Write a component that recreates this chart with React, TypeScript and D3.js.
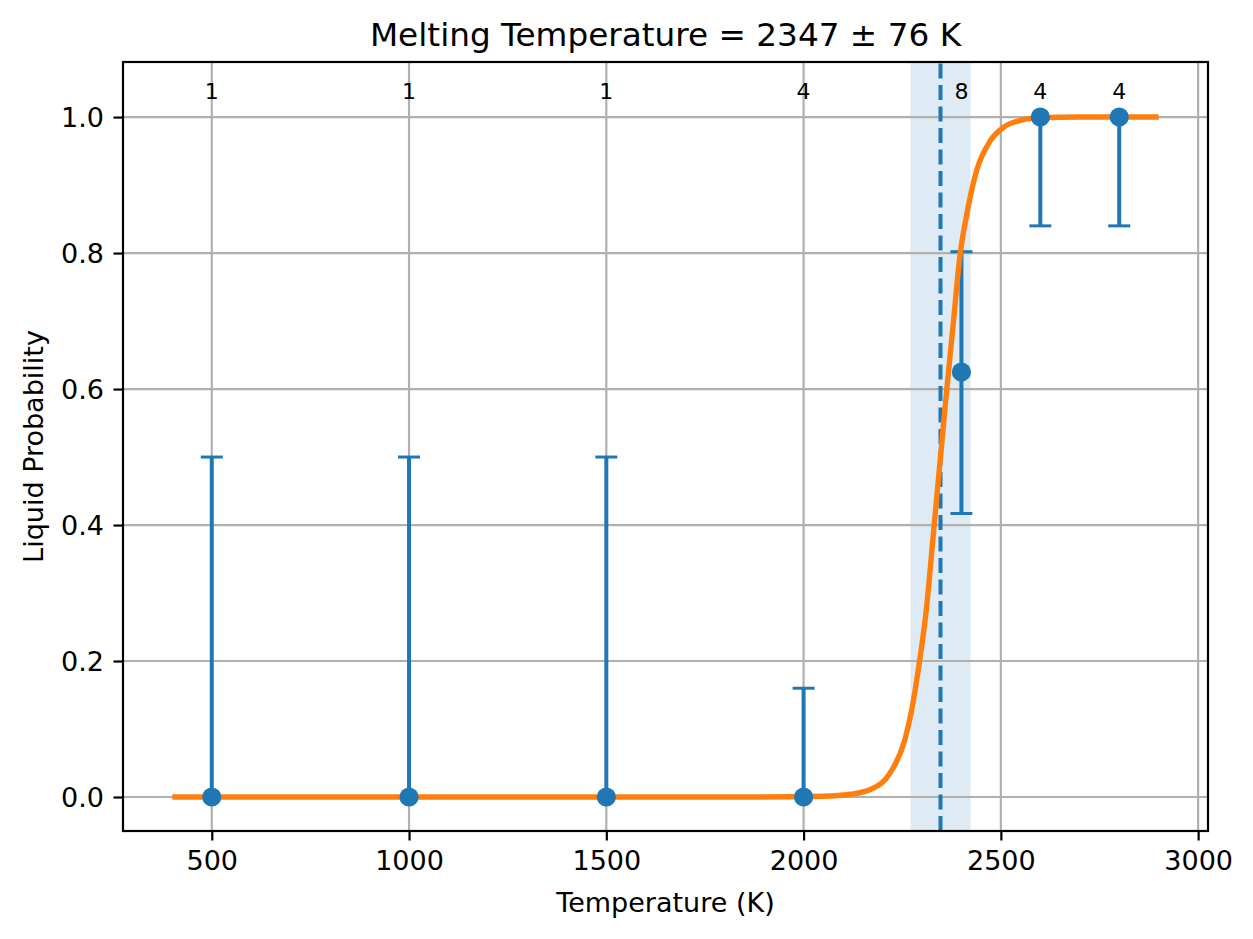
import React, { useEffect, useRef } from 'react';
import * as d3 from 'd3';

// measured points
const temps = [500, 1000, 1500, 2000, 2400, 2600, 2800];
const probs = [0, 0, 0, 0, 0.625, 1, 1];
const errLow = [0, 0, 0, 0, 0.417, 0.84, 0.84];
const errHigh = [0.5, 0.5, 0.5, 0.16, 0.802, 1, 1];
const counts = ['1', '1', '1', '4', '8', '4', '4'];

// fitted curve
const fitT = [400, 1900, 2050, 2118, 2169, 2219, 2257, 2274, 2291, 2310, 2331, 2347, 2363, 2380, 2395, 2418, 2439, 2473, 2507, 2549, 2600, 2700, 2900];
const fitP = [0, 0, 0.001, 0.004, 0.011, 0.035, 0.085, 0.128, 0.188, 0.27, 0.4, 0.5, 0.6, 0.7, 0.79, 0.87, 0.922, 0.965, 0.985, 0.995, 0.999, 1, 1];

const meltT = 2347;
const meltErr = 76;

const xTicks = [500, 1000, 1500, 2000, 2500, 3000];
const yTicks = [0, 0.2, 0.4, 0.6, 0.8, 1.0];

const App: React.FC = () => {
  const chartRef = useRef<SVGSVGElement | null>(null);

  useEffect(() => {
    d3.select(chartRef.current).selectAll('*').remove();

    const width = 1253;
    const height = 939;
    const margin = { top: 62, right: 45, bottom: 108, left: 123 };
    const font = '"DejaVu Sans", sans-serif';
    const blue = '#1f77b4';
    const orange = '#ff7f0e';

    const svg = d3.select(chartRef.current).attr('width', width).attr('height', height);

    const x = d3.scaleLinear().domain([275, 3025]).range([margin.left, width - margin.right]);
    const y = d3.scaleLinear().domain([-0.05, 1.081]).range([height - margin.bottom, margin.top]);

    const [x0, x1] = x.range();
    const [y0, y1] = y.range();

    // uncertainty band
    svg
      .append('rect')
      .attr('x', x(meltT - meltErr))
      .attr('y', y1)
      .attr('width', x(meltT + meltErr) - x(meltT - meltErr))
      .attr('height', y0 - y1)
      .attr('fill', blue)
      .attr('fill-opacity', 0.15);

    // grid
    svg
      .selectAll('.gx')
      .data(xTicks)
      .enter()
      .append('line')
      .attr('x1', (d) => x(d))
      .attr('x2', (d) => x(d))
      .attr('y1', y0)
      .attr('y2', y1)
      .attr('stroke', '#b0b0b0')
      .attr('stroke-width', 2.2);
    svg
      .selectAll('.gy')
      .data(yTicks)
      .enter()
      .append('line')
      .attr('x1', x0)
      .attr('x2', x1)
      .attr('y1', (d) => y(d))
      .attr('y2', (d) => y(d))
      .attr('stroke', '#b0b0b0')
      .attr('stroke-width', 2.2);

    // melting temperature
    svg
      .append('line')
      .attr('x1', x(meltT))
      .attr('x2', x(meltT))
      .attr('y1', y0)
      .attr('y2', y1)
      .attr('stroke', blue)
      .attr('stroke-width', 4)
      .attr('stroke-dasharray', '15,6.5');

    // error bars
    const bars = svg.append('g');
    temps.forEach((t, i) => {
      bars
        .append('line')
        .attr('x1', x(t))
        .attr('x2', x(t))
        .attr('y1', y(errLow[i]))
        .attr('y2', y(errHigh[i]))
        .attr('stroke', blue)
        .attr('stroke-width', 4);
      [errLow[i], errHigh[i]].forEach((v) => {
        if (v === probs[i]) return;
        bars
          .append('line')
          .attr('x1', x(t) - 11)
          .attr('x2', x(t) + 11)
          .attr('y1', y(v))
          .attr('y2', y(v))
          .attr('stroke', blue)
          .attr('stroke-width', 3);
      });
    });

    // fit curve
    const line = d3
      .line<number>()
      .x((d) => x(d))
      .y((_, i) => y(fitP[i]))
      .curve(d3.curveMonotoneX);
    svg
      .append('path')
      .attr('d', line(fitT))
      .attr('fill', 'none')
      .attr('stroke', orange)
      .attr('stroke-width', 5.4);

    // markers
    svg
      .selectAll('.pt')
      .data(temps)
      .enter()
      .append('circle')
      .attr('cx', (d) => x(d))
      .attr('cy', (_, i) => y(probs[i]))
      .attr('r', 9.6)
      .attr('fill', blue);

    // counts
    svg
      .selectAll('.cnt')
      .data(temps)
      .enter()
      .append('text')
      .attr('x', (d) => x(d))
      .attr('y', y(1.027))
      .attr('text-anchor', 'middle')
      .style('font-family', font)
      .style('font-size', '22px')
      .text((_, i) => counts[i]);

    // spines
    svg
      .append('rect')
      .attr('x', x0)
      .attr('y', y1)
      .attr('width', x1 - x0)
      .attr('height', y0 - y1)
      .attr('fill', 'none')
      .attr('stroke', '#000')
      .attr('stroke-width', 2.2);

    // axes
    const xAxis = d3
      .axisBottom(x)
      .tickValues(xTicks)
      .tickFormat(d3.format('d'))
      .tickSize(9.5)
      .tickPadding(9.5);
    const gx = svg.append('g').attr('transform', `translate(0,${y0})`).call(xAxis);
    gx.select('.domain').remove();
    gx.selectAll('line').attr('stroke-width', 2.2);
    gx.selectAll('text').style('font-family', font).style('font-size', '27px').attr('dy', '0.75em');

    const yAxis = d3
      .axisLeft(y)
      .tickValues(yTicks)
      .tickFormat(d3.format('.1f'))
      .tickSize(9.5)
      .tickPadding(9.5);
    const gy = svg.append('g').attr('transform', `translate(${x0},0)`).call(yAxis);
    gy.select('.domain').remove();
    gy.selectAll('line').attr('stroke-width', 2.2);
    gy.selectAll('text').style('font-family', font).style('font-size', '27px').attr('dy', '0.35em');

    // labels
    svg
      .append('text')
      .attr('x', (x0 + x1) / 2)
      .attr('y', 912)
      .attr('text-anchor', 'middle')
      .style('font-family', font)
      .style('font-size', '27px')
      .text('Temperature (K)');

    svg
      .append('text')
      .attr('transform', `translate(43,${(y0 + y1) / 2}) rotate(-90)`)
      .attr('text-anchor', 'middle')
      .style('font-family', font)
      .style('font-size', '27px')
      .text('Liquid Probability');

    svg
      .append('text')
      .attr('x', (x0 + x1) / 2)
      .attr('y', 46)
      .attr('text-anchor', 'middle')
      .style('font-family', font)
      .style('font-size', '32.7px')
      .text(`Melting Temperature = ${meltT} ± ${meltErr} K`);
  }, []);

  return (
    <svg
      ref={chartRef}
      style={{ position: 'absolute', left: 0, top: 0, background: '#fff' }}
    ></svg>
  );
};

export default App;
